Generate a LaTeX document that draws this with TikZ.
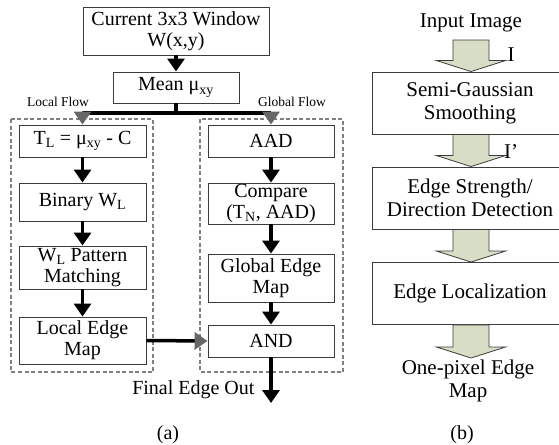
\documentclass[tikz,border=0pt]{standalone}
\usepackage{fontspec}
\setmainfont{Liberation Serif}
\usetikzlibrary{arrows.meta, calc, positioning}
\definecolor{BoxLine}{RGB}{60, 60, 60}
\definecolor{FlowGray}{RGB}{128, 128, 128}
\definecolor{PaleOlive}{RGB}{216, 221, 198}

% wide hollow arrow between two stages: start point, tip point
\newcommand{\fatarrow}[2]{%
  \draw[fat] let \p1=#1, \p2=#2 in
    (\x2-18pt,\y1) -- (\x2-18pt,\y2+11pt) -- (\x2-34.5pt,\y2+11pt) -- (\x2,\y2)
    -- (\x2+34.5pt,\y2+11pt) -- (\x2+18pt,\y2+11pt) -- (\x2+18pt,\y1) -- cycle;}

\begin{document}
\begin{tikzpicture}[x=1pt, y=-1pt,
        blk/.style={draw=BoxLine, line width=0.9pt, align=center, inner sep=0pt, minimum width=127pt, font=\fontsize{20}{21}\selectfont},
        stage/.style={draw=BoxLine, line width=0.9pt, align=center, inner sep=0pt, minimum width=196pt, minimum height=62pt, font=\fontsize{21}{23}\selectfont},
        region/.style={draw=FlowGray, line width=1.5pt, dash pattern=on 4pt off 2.5pt},
        flow/.style={line width=3.5pt, -{Triangle[width=17pt, length=13pt]}},
        flowin/.style={line width=3.5pt, -{Triangle[width=17pt, length=13pt, color=black!60]}},
        fat/.style={draw=BoxLine, line width=0.8pt, fill=PaleOlive},
        tag/.style={font=\fontsize{13.5}{15}\selectfont},
        txt/.style={font=\fontsize{20}{22}\selectfont, align=center},
        bigtxt/.style={font=\fontsize{21}{23}\selectfont, align=center}
    ]
    \useasboundingbox (0,0) rectangle (559,444);
    \clip (0,0) rectangle (559,444);

    % (a) window and mean
    \node[blk, minimum width=186pt, minimum height=48pt] (win) at (176,31) {Current 3x3 Window\\W(x,y)};
    \node[blk, minimum width=126pt, minimum height=31pt] (mean) at (176,87.5) {Mean μ\textsubscript{xy}};
    \coordinate (split) at (176,113);

    % dashed regions for the two flows
    \draw[region] (11,119) rectangle (153,372);
    \draw[region] (200,119) rectangle (343,372);
    \node[tag] (lflow) at (58,102) {Local Flow};
    \node[tag] (gflow) at (292,102) {Global Flow};

    % local flow
    \node[blk, minimum height=32pt] (tl) at (82.5,141) {T\textsubscript{L} = μ\textsubscript{xy} - C};
    \node[blk, minimum height=38pt] (bin) at (82.5,202) {Binary W\textsubscript{L}};
    \node[blk, minimum height=43pt] (pat) at (82.5,267.5) {W\textsubscript{L} Pattern\\Matching};
    \node[blk, minimum height=47pt] (loc) at (82.5,340.5) {Local Edge\\Map};

    % global flow
    \node[blk, minimum width=126pt, minimum height=32pt] (aad) at (271,141) {AAD};
    \node[blk, minimum width=126pt, minimum height=41pt] (cmp) at (271,203.5) {Compare\\(T\textsubscript{N}, AAD)};
    \node[blk, minimum width=126pt, minimum height=48pt] (gmap) at (271,278) {Global Edge\\Map};
    \node[blk, minimum width=126pt, minimum height=32pt] (and) at (271,341) {AND};
    \coordinate (fin) at (271,403);
    \node[txt, anchor=east] (finlbl) at (258,390) {Final Edge Out};

    % connectors of (a)
    \draw[flow] (win) -- (mean);
    \draw[line width=3.5pt] (mean.south) -- (split);
    \draw[flowin] (split) -| (tl.north);
    \draw[flowin] (split) -| (aad.north);
    \draw[flow] (tl) -- (bin);
    \draw[flow] (bin) -- (pat);
    \draw[flow] (pat) -- (loc);
    \draw[flow] (aad) -- (cmp);
    \draw[flow] (cmp) -- (gmap);
    \draw[flow] (gmap) -- (and);
    \draw[flowin] (loc.east) -- (and.west);
    \draw[flow] (and.south) -- (fin);

    % (b) stages
    \node[bigtxt] (src) at (471,23) {Input Image};
    \coordinate (srcend) at (471,40);
    \node[stage] (smooth) at (470,103) {Semi-Gaussian\\Smoothing};
    \node[stage] (strength) at (470,198) {Edge Strength/\\Direction Detection};
    \node[stage] (localize) at (470,293.5) {Edge Localization};
    \coordinate (mapend) at (471,358);
    \node[bigtxt] (onepix) at (468,381) {One-pixel Edge\\Map};

    % hollow arrows of (b)
    \fatarrow{(srcend)}{(smooth.north -| srcend)}
    \fatarrow{(smooth.south -| srcend)}{(strength.north -| srcend)}
    \fatarrow{(strength.south -| srcend)}{(localize.north -| srcend)}
    \fatarrow{(localize.south -| srcend)}{(mapend)}
    \node[bigtxt] (iin) at (511,55) {I};
    \node[bigtxt] (iout) at (511,152) {I’};

    % captions
    \node[txt] (capa) at (168,435) {(a)};
    \node[txt] (capb) at (462,435) {(b)};
\end{tikzpicture}
\end{document}
